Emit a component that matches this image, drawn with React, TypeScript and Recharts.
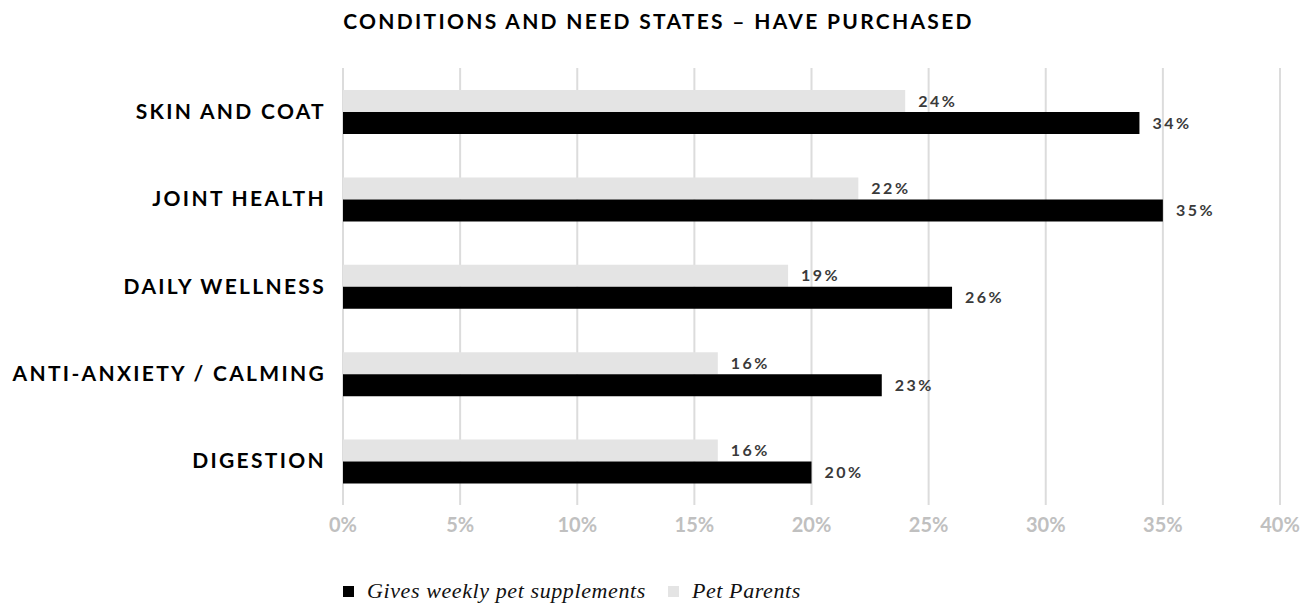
import { BarChart, Bar, XAxis, YAxis, CartesianGrid, LabelList } from "recharts";

const categories = ["SKIN AND COAT", "JOINT HEALTH", "DAILY WELLNESS", "ANTI-ANXIETY / CALMING", "DIGESTION"];
const petParents = [24, 22, 19, 16, 16];
const weekly = [34, 35, 26, 23, 20];
const xTicks = [0, 5, 10, 15, 20, 25, 30, 35, 40];

const series = [
  { key: "weekly", name: "Gives weekly pet supplements", color: "#000000" },
  { key: "petParents", name: "Pet Parents", color: "#e4e4e4" },
];

const data = categories.map((c, i) => ({ c, petParents: petParents[i], weekly: weekly[i] }));

const SANS = "Lato, 'Open Sans', sans-serif";

function CatTick({ x, y, payload }: any) {
  return (
    <text x={x - 9} y={y} dy={7} textAnchor="end" fill="#000" fontFamily={SANS} fontWeight={700} fontSize={21} letterSpacing={2.3}>
      {payload.value}
    </text>
  );
}

const pct = (v: any) => `${v}%`;
const labelStyle = { fill: "#3a3a3a", fontSize: 16, fontFamily: SANS, fontWeight: 700, letterSpacing: 2.5 };

export default function App() {
  return (
    <div style={{ position: "absolute", left: 0, top: 0, width: 1313, height: 610, background: "#fff" }}>
      <div
        style={{
          position: "absolute",
          top: 8,
          left: 0,
          width: 1313,
          textAlign: "center",
          fontFamily: SANS,
          fontWeight: 700,
          fontSize: 21,
          letterSpacing: 2.3,
          color: "#000",
          paddingLeft: 2,
        }}
      >
        CONDITIONS AND NEED STATES – HAVE PURCHASED
      </div>
      <BarChart
        width={1313}
        height={610}
        data={data}
        layout="vertical"
        margin={{ top: 68, right: 33, bottom: 75, left: 0 }}
        barGap={0}
        barSize={22}
      >
        <CartesianGrid horizontal={false} stroke="#dcdcdc" strokeWidth={2} />
        <XAxis
          type="number"
          domain={[0, 40]}
          ticks={xTicks}
          tickFormatter={pct}
          axisLine={false}
          tickLine={false}
          tickMargin={7}
          height={30}
          tick={{ fill: "#c0c0c0", fontSize: 20, fontFamily: SANS, fontWeight: 700 }}
        />
        <YAxis type="category" dataKey="c" width={343} axisLine={false} tickLine={false} tick={<CatTick />} />
        <Bar dataKey="petParents" fill="#e4e4e4" isAnimationActive={false}>
          <LabelList dataKey="petParents" position="right" offset={13} formatter={pct} style={labelStyle} />
        </Bar>
        <Bar dataKey="weekly" fill="#000000" isAnimationActive={false}>
          <LabelList dataKey="weekly" position="right" offset={13} formatter={pct} style={labelStyle} />
        </Bar>
      </BarChart>
      <div
        style={{
          position: "absolute",
          top: 578,
          left: 343,
          display: "flex",
          alignItems: "center",
          fontFamily: "'Liberation Serif', serif",
          fontStyle: "italic",
          fontSize: 22,
          letterSpacing: 0.6,
          color: "#111",
        }}
      >
        {series.map((s) => (
          <div key={s.key} style={{ display: "flex", alignItems: "center", marginRight: 22 }}>
            <span style={{ display: "inline-block", width: 11, height: 11, background: s.color, marginRight: 13 }} />
            <span>{s.name}</span>
          </div>
        ))}
      </div>
    </div>
  );
}
